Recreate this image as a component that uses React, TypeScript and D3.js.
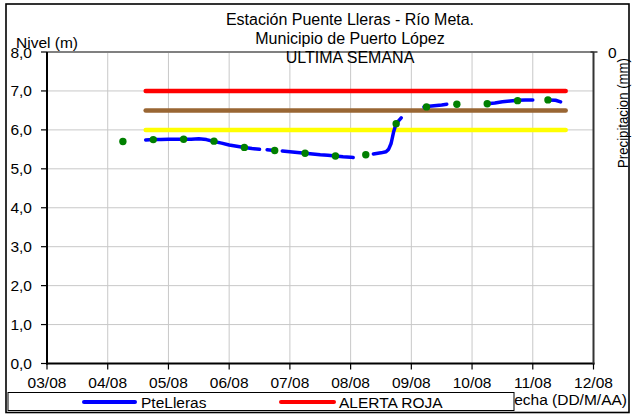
import React from "react";
import * as d3 from "d3";

// ---- data ----
const dayLabels = ["03/08", "04/08", "05/08", "06/08", "07/08", "08/08", "09/08", "10/08", "11/08", "12/08"];
const levelTicks = [0, 1, 2, 3, 4, 5, 6, 7, 8];

// hours since 03/08 00:00, null = missing reading
const levelHours = [39, 42, 45, 48, 51, 54, 57, 60, 63, 66, 69, 72, 75, 78, 81, 84, 85, 87, 90, 91, 93, 96, 99, 102, 105, 108, 111, 114, 117, 120, 121, 122, 129, 132, 134, 135, 136, 137, 138, 140, 141, 149, 150, 153, 156, 158, 159, 174, 177, 180, 183, 186, 189, 192, 193, 198, 201, 203];
const levelValues: (number | null)[] = [5.74, 5.75, 5.75, 5.76, 5.76, 5.76, 5.76, 5.77, 5.75, 5.70, 5.66, 5.61, 5.58, 5.55, 5.52, 5.50, null, 5.49, 5.47, null, 5.46, 5.44, 5.42, 5.40, 5.38, 5.36, 5.35, 5.33, 5.31, 5.30, 5.29, null, 5.38, 5.41, 5.44, 5.50, 5.65, 5.95, 6.16, 6.31, null, 6.59, 6.60, 6.62, 6.64, 6.66, null, 6.67, 6.69, 6.72, 6.74, 6.76, 6.77, 6.77, null, 6.77, 6.76, 6.72];

const readingHours = [30, 42, 54, 66, 78, 90, 102, 114, 126, 138, 150, 162, 174, 186, 198];
const readingValues = [5.70, 5.75, 5.76, 5.71, 5.55, 5.47, 5.40, 5.33, 5.36, 6.16, 6.59, 6.66, 6.67, 6.75, 6.77];

const alertNames = ["ALERTA ROJA", "ALERTA NARANJA", "ALERTA AMARILLA"];
const alertValues = [7.0, 6.5, 6.0];
const alertStartHour = 39;
const alertEndHour = 205;

const titleLines = ["Estación Puente Lleras - Río Meta.", "Municipio de Puerto López", "ULTIMA SEMANA"];

// ---- styles ----
const alertColors = ["#ff0000", "#996633", "#ffff00"];
const FONT = "'Liberation Sans', Arial, sans-serif";

export default function App() {
  const W = 634, H = 415;
  const left = 47, right = 593.5, top = 52, bottom = 363.5;
  const x = d3.scaleLinear().domain([0, 216]).range([left, right]);
  const y = d3.scaleLinear().domain([0, 8]).range([bottom, top]);

  const pts = levelHours.map((h, i) => ({ h, v: levelValues[i] }));
  const line = d3
    .line<{ h: number; v: number | null }>()
    .defined((d) => d.v !== null)
    .x((d) => x(d.h))
    .y((d) => y(d.v as number));

  return (
    <div style={{ position: "absolute", left: 0, top: 0 }}>
      <svg width={W} height={H} style={{ display: "block", fontFamily: FONT }}>
        <rect x={0} y={0} width={W} height={H} fill="#fff" />
        {/* outer border */}
        <rect x={6} y={4} width={623} height={408.5} fill="none" stroke="#000" strokeWidth={1.6} />

        {/* grid */}
        {dayLabels.map((_, i) => (
          <line key={"gv" + i} x1={x(i * 24)} x2={x(i * 24)} y1={top} y2={bottom} stroke="#c8c8c8" strokeWidth={1} />
        ))}
        {levelTicks.map((t) => (
          <line key={"gh" + t} x1={left} x2={right} y1={y(t)} y2={y(t)} stroke="#c8c8c8" strokeWidth={1} />
        ))}
        <line x1={left} x2={right} y1={top} y2={top} stroke="#808080" strokeWidth={2} />

        {/* alert thresholds */}
        {alertValues.map((v, i) => (
          <line key={"al" + i} x1={x(alertStartHour)} x2={x(alertEndHour)} y1={y(v)} y2={y(v)} stroke={alertColors[i]} strokeWidth={4.5} strokeLinecap="round" />
        ))}

        {/* level series */}
        <path d={line(pts) || ""} fill="none" stroke="#0000ff" strokeWidth={3.5} strokeLinecap="round" strokeLinejoin="round" />
        {readingHours.map((h, i) => (
          <circle key={"r" + i} cx={x(h)} cy={y(readingValues[i])} r={3.7} fill="#008000" />
        ))}

        {/* axes */}
        <line x1={left} x2={left} y1={top} y2={bottom + 1} stroke="#000" strokeWidth={2} />
        <line x1={left - 1} x2={right + 1} y1={bottom} y2={bottom} stroke="#000" strokeWidth={2} />
        <line x1={right} x2={right} y1={top} y2={bottom + 1} stroke="#333" strokeWidth={2} />
        <line x1={right - 3} x2={right + 4} y1={top} y2={top} stroke="#333" strokeWidth={1.5} />
        {levelTicks.map((t) => (
          <g key={"yt" + t}>
            <line x1={left - 6} x2={left} y1={y(t)} y2={y(t)} stroke="#000" strokeWidth={1.2} />
            <text x={32} y={y(t) + 5.5} textAnchor="end" fontSize={15.5} fill="#000">
              {t.toFixed(1).replace(".", ",")}
            </text>
          </g>
        ))}
        {dayLabels.map((d, i) => (
          <g key={"xt" + i}>
            <line x1={x(i * 24)} x2={x(i * 24)} y1={bottom} y2={bottom + 6} stroke="#000" strokeWidth={1.2} />
            <text x={x(i * 24)} y={388} textAnchor="middle" fontSize={15.5} fill="#000">
              {d}
            </text>
          </g>
        ))}
        <text x={608} y={57.5} fontSize={15.5} fill="#000">0</text>

        {/* axis titles */}
        <text x={16} y={48} fontSize={15.5} fill="#000">Nivel (m)</text>
        <text transform="translate(628,113) rotate(-90)" textAnchor="middle" fontSize={15} textLength={110} lengthAdjust="spacingAndGlyphs" fill="#000">
          Precipitacion (mm)
        </text>
        <text x={627} y={405} textAnchor="end" fontSize={15.5} fill="#000">Fecha (DD/M/AA)</text>

        {/* title */}
        {titleLines.map((t, i) => (
          <text key={"t" + i} x={350} y={25 + i * 19} textAnchor="middle" fontSize={16} fill="#000">
            {t}
          </text>
        ))}

        {/* legend */}
        <rect x={8} y={392.5} width={506} height={18} fill="#fff" stroke="#000" strokeWidth={1} />
        <line x1={84} x2={135} y1={402} y2={402} stroke="#0000ff" strokeWidth={4} strokeLinecap="round" />
        <text x={141} y={408} fontSize={15.5} fill="#000">PteLleras</text>
        <line x1={281} x2={334} y1={402} y2={402} stroke={alertColors[0]} strokeWidth={4} strokeLinecap="round" />
        <text x={339} y={408} fontSize={15.5} fill="#000">{alertNames[0]}</text>
      </svg>
    </div>
  );
}
